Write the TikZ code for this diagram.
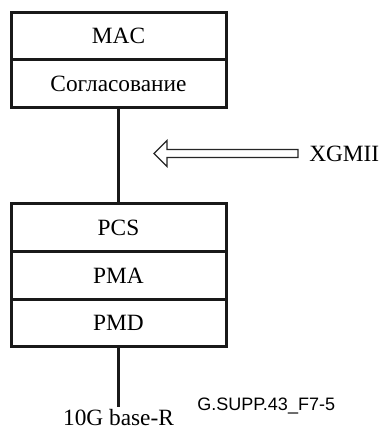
\documentclass[tikz,border=0pt]{standalone}
\usepackage{fontspec}
\setmainfont{Liberation Serif}
\newfontfamily\figsans{Liberation Sans}
\begin{document}
\begin{tikzpicture}[x=0.75pt,y=-0.75pt,
  layerbox/.style={draw=black!90, line width=2.25pt, minimum width=161.25pt,
    minimum height=35.6pt, inner sep=0pt, font=\fontsize{17.5}{20}\selectfont},
  link/.style={draw=black!90, line width=2.25pt},
  lbl/.style={font=\fontsize{17.5}{20}\selectfont, inner sep=0pt}]
\useasboundingbox (0,0) rectangle (380,432);
% upper stack
\node[layerbox] (mac) at (118.5,36) {MAC};
\node[layerbox] (sog) at (118.5,83.5) {Согласование};
% lower stack
\node[layerbox] (pcs) at (118.5,227.5) {PCS};
\node[layerbox] (pma) at (118.5,275.5) {PMA};
\node[layerbox] (pmd) at (118.5,323) {PMD};
% connectors
\draw[link] (sog.south) -- (pcs.north);
\coordinate (phy) at (118.5,407);
\draw[link] (pmd.south) -- (phy);
\node[lbl, anchor=north] (base) at (118.5,409) {10G base-R};
% XGMII hollow arrow
\node[lbl, anchor=west] (xg) at (309,154) {XGMII};
\draw[line width=0.9pt, draw=black!85, fill=white, line join=miter]
  (298,149.5) -- (167,149.5) -- (167,140.5) -- (154,153.5) -- (167,166.5)
  -- (167,157.5) -- (298,157.5) -- cycle;
% figure id
\node[font=\figsans\fontsize{13.5}{15}\selectfont, anchor=west, inner sep=0pt] (fid) at (197,406) {G.SUPP.43\_F7-5};
\end{tikzpicture}
\end{document}
